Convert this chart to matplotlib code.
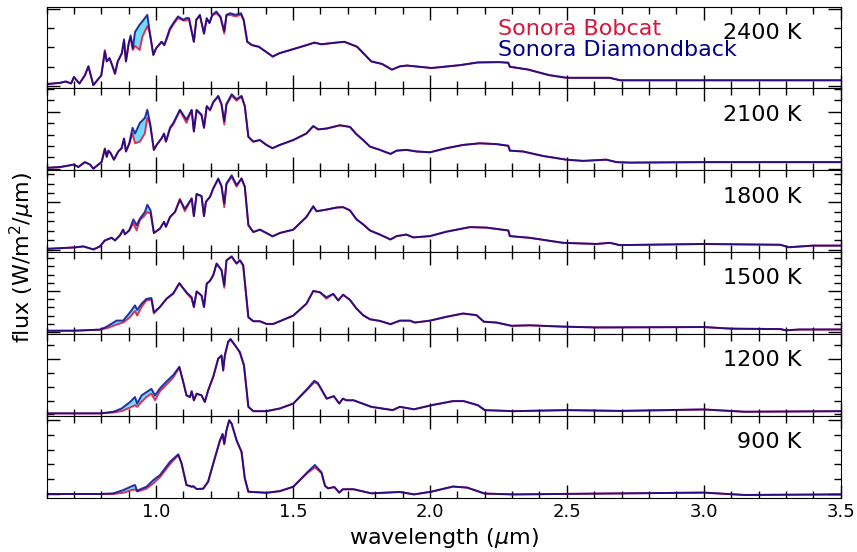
import numpy as np
import matplotlib
matplotlib.use("Agg")
import matplotlib.pyplot as plt
from matplotlib.ticker import MultipleLocator, FixedLocator

# temperatures of the six model pairs (top to bottom)
temps = ["2400 K", "2100 K", "1800 K", "1500 K", "1200 K", "900 K"]

# wavelength grids (micron) and normalised flux
wl_2400 = [0.60, 0.65, 0.67, 0.69, 0.70, 0.72, 0.74, 0.753, 0.771, 0.79, 0.80, 0.813, 0.82, 0.83, 0.84,
           0.85, 0.86, 0.875, 0.883, 0.89, 0.90, 0.907, 0.915, 0.923, 0.94, 0.95, 0.968, 0.976, 0.99,
           1.00, 1.02, 1.03, 1.04, 1.05, 1.063, 1.08, 1.10, 1.11, 1.12, 1.138, 1.147, 1.16, 1.175,
           1.185, 1.195, 1.205, 1.22, 1.235, 1.249, 1.257, 1.27, 1.29, 1.31, 1.32, 1.333, 1.35, 1.375,
           1.426, 1.45, 1.50, 1.55, 1.578, 1.604, 1.656, 1.688, 1.734, 1.786, 1.825, 1.861, 1.89,
           1.916, 2.006, 2.11, 2.175, 2.253, 2.286, 2.292, 2.357, 2.435, 2.50, 2.656, 2.695, 3.0, 3.5]
db_2400 = [0.053, 0.069, 0.085, 0.061, 0.14, 0.06, 0.16, 0.27, 0.04, 0.12, 0.16, 0.45, 0.33, 0.37, 0.28,
           0.18, 0.33, 0.43, 0.60, 0.33, 0.55, 0.65, 0.49, 0.69, 0.78, 0.82, 0.90, 0.71, 0.41,
           0.49, 0.57, 0.53, 0.63, 0.73, 0.80, 0.88, 0.84, 0.86, 0.86, 0.57, 0.84, 0.90, 0.67,
           0.86, 0.80, 0.90, 0.94, 0.88, 0.70, 0.90, 0.92, 0.90, 0.92, 0.84, 0.57, 0.53, 0.51,
           0.39, 0.43, 0.48, 0.53, 0.56, 0.54, 0.56, 0.57, 0.51, 0.33, 0.30, 0.23, 0.27,
           0.28, 0.25, 0.285, 0.318, 0.322, 0.314, 0.265, 0.232, 0.163, 0.13, 0.13, 0.10, 0.10, 0.10]
bc_2400 = [0.053, 0.069, 0.085, 0.061, 0.14, 0.06, 0.16, 0.27, 0.04, 0.12, 0.16, 0.47, 0.33, 0.37, 0.28,
           0.18, 0.33, 0.43, 0.58, 0.33, 0.55, 0.62, 0.47, 0.52, 0.47, 0.63, 0.76, 0.69, 0.41,
           0.49, 0.57, 0.53, 0.61, 0.71, 0.78, 0.86, 0.83, 0.83, 0.85, 0.57, 0.84, 0.89, 0.67,
           0.85, 0.80, 0.89, 0.92, 0.87, 0.67, 0.89, 0.90, 0.88, 0.90, 0.83, 0.57, 0.53, 0.51,
           0.39, 0.43, 0.48, 0.53, 0.56, 0.54, 0.56, 0.57, 0.51, 0.33, 0.30, 0.23, 0.27,
           0.28, 0.25, 0.285, 0.318, 0.322, 0.314, 0.265, 0.232, 0.163, 0.13, 0.13, 0.10, 0.10, 0.10]

wl_2100 = [0.60, 0.65, 0.70, 0.716, 0.74, 0.759, 0.771, 0.789, 0.801, 0.813, 0.82, 0.826, 0.834, 0.846,
           0.862, 0.874, 0.883, 0.89, 0.902, 0.914, 0.923, 0.941, 0.959, 0.968, 0.978, 0.992, 1.002,
           1.02, 1.029, 1.036, 1.051, 1.063, 1.087, 1.111, 1.13, 1.138, 1.148, 1.166, 1.175, 1.185,
           1.197, 1.209, 1.227, 1.239, 1.249, 1.257, 1.276, 1.294, 1.312, 1.324, 1.337, 1.355, 1.379,
           1.403, 1.425, 1.452, 1.501, 1.549, 1.574, 1.592, 1.622, 1.671, 1.708, 1.732, 1.756, 1.781,
           1.817, 1.856, 1.878, 1.914, 1.951, 2.0, 2.06, 2.121, 2.182, 2.243, 2.286, 2.292, 2.34,
           2.413, 2.498, 2.559, 2.644, 2.681, 2.73, 3.0, 3.5]
db_2100 = [0.03, 0.04, 0.07, 0.04, 0.10, 0.07, 0.02, 0.07, 0.10, 0.26, 0.165, 0.24, 0.21, 0.13,
           0.23, 0.27, 0.39, 0.23, 0.33, 0.52, 0.45, 0.58, 0.64, 0.74, 0.58, 0.25, 0.31,
           0.39, 0.45, 0.35, 0.52, 0.58, 0.74, 0.62, 0.74, 0.475, 0.74, 0.68, 0.52, 0.785,
           0.74, 0.835, 0.91, 0.81, 0.60, 0.81, 0.93, 0.87, 0.91, 0.785, 0.41, 0.35, 0.37,
           0.31, 0.27, 0.31, 0.37, 0.45, 0.54, 0.50, 0.51, 0.55, 0.53, 0.44, 0.37, 0.29,
           0.25, 0.20, 0.24, 0.25, 0.23, 0.22, 0.27, 0.31, 0.33, 0.32, 0.30, 0.24, 0.23,
           0.175, 0.13, 0.115, 0.13, 0.10, 0.094, 0.10, 0.10]
bc_2100 = [0.03, 0.04, 0.07, 0.04, 0.10, 0.07, 0.02, 0.07, 0.10, 0.27, 0.165, 0.24, 0.21, 0.13,
           0.23, 0.27, 0.38, 0.23, 0.32, 0.45, 0.33, 0.35, 0.45, 0.64, 0.56, 0.25, 0.31,
           0.39, 0.44, 0.35, 0.51, 0.56, 0.73, 0.58, 0.73, 0.475, 0.73, 0.67, 0.52, 0.78,
           0.73, 0.83, 0.90, 0.80, 0.56, 0.80, 0.91, 0.85, 0.90, 0.78, 0.41, 0.35, 0.37,
           0.31, 0.27, 0.31, 0.37, 0.45, 0.54, 0.50, 0.51, 0.55, 0.53, 0.44, 0.37, 0.29,
           0.25, 0.20, 0.24, 0.25, 0.23, 0.22, 0.27, 0.31, 0.33, 0.32, 0.30, 0.24, 0.23,
           0.175, 0.13, 0.115, 0.13, 0.10, 0.094, 0.10, 0.10]

wl_1800 = [0.60, 0.70, 0.735, 0.771, 0.795, 0.813, 0.838, 0.85, 0.868, 0.88, 0.886, 0.902, 0.917,
           0.929, 0.941, 0.959, 0.968, 0.98, 0.992, 1.014, 1.029, 1.036, 1.051, 1.069, 1.087, 1.105,
           1.13, 1.138, 1.148, 1.166, 1.175, 1.182, 1.197, 1.209, 1.227, 1.239, 1.249, 1.257, 1.276,
           1.294, 1.312, 1.324, 1.337, 1.355, 1.379, 1.403, 1.425, 1.452, 1.501, 1.549, 1.574, 1.586,
           1.622, 1.659, 1.683, 1.708, 1.732, 1.756, 1.781, 1.817, 1.856, 1.878, 1.914, 1.939, 2.0,
           2.06, 2.146, 2.206, 2.286, 2.292, 2.365, 2.486, 2.608, 2.657, 2.693, 3.0, 3.28, 3.31,
           3.4, 3.5]
db_1800 = [0.04, 0.057, 0.07, 0.033, 0.07, 0.143, 0.176, 0.143, 0.205, 0.275, 0.217, 0.266, 0.40,
           0.33, 0.41, 0.49, 0.58, 0.51, 0.234, 0.287, 0.37, 0.31, 0.43, 0.49, 0.64, 0.53,
           0.656, 0.44, 0.71, 0.685, 0.44, 0.615, 0.676, 0.78, 0.90, 0.81, 0.594, 0.84, 0.94,
           0.82, 0.90, 0.80, 0.33, 0.246, 0.275, 0.234, 0.193, 0.234, 0.275, 0.43, 0.56, 0.50,
           0.52, 0.545, 0.55, 0.51, 0.40, 0.34, 0.265, 0.215, 0.155, 0.196, 0.215, 0.18, 0.196,
           0.25, 0.306, 0.30, 0.265, 0.196, 0.175, 0.114, 0.10, 0.114, 0.086, 0.10, 0.09, 0.06,
           0.08, 0.08]
bc_1800 = [0.04, 0.057, 0.07, 0.033, 0.07, 0.143, 0.176, 0.143, 0.205, 0.275, 0.217, 0.266, 0.35,
           0.266, 0.39, 0.45, 0.49, 0.47, 0.234, 0.287, 0.37, 0.31, 0.43, 0.49, 0.65, 0.50,
           0.656, 0.44, 0.71, 0.685, 0.44, 0.615, 0.676, 0.78, 0.89, 0.80, 0.55, 0.83, 0.92,
           0.80, 0.90, 0.80, 0.33, 0.246, 0.275, 0.234, 0.193, 0.234, 0.275, 0.43, 0.56, 0.50,
           0.52, 0.545, 0.55, 0.51, 0.40, 0.34, 0.265, 0.215, 0.155, 0.196, 0.215, 0.18, 0.196,
           0.25, 0.306, 0.30, 0.265, 0.196, 0.175, 0.114, 0.10, 0.114, 0.086, 0.10, 0.09, 0.06,
           0.08, 0.08]

wl_1500 = [0.60, 0.70, 0.795, 0.82, 0.856, 0.88, 0.905, 0.923, 0.931, 0.947, 0.965, 0.983, 0.992,
           1.014, 1.038, 1.063, 1.085, 1.111, 1.13, 1.138, 1.148, 1.166, 1.175, 1.185, 1.197, 1.209,
           1.221, 1.239, 1.249, 1.257, 1.276, 1.294, 1.306, 1.318, 1.337, 1.355, 1.379, 1.403, 1.428,
           1.452, 1.501, 1.549, 1.574, 1.598, 1.622, 1.647, 1.665, 1.683, 1.708, 1.732, 1.756, 1.781,
           1.817, 1.856, 1.890, 1.927, 1.945, 2.0, 2.06, 2.121, 2.170, 2.197, 2.243, 2.298, 2.365,
           2.486, 2.608, 3.0, 3.1, 3.28, 3.3, 3.35, 3.5]
db_1500 = [0.04, 0.04, 0.053, 0.09, 0.164, 0.164, 0.266, 0.35, 0.295, 0.37, 0.43, 0.44, 0.266,
           0.33, 0.43, 0.50, 0.62, 0.51, 0.45, 0.33, 0.52, 0.47, 0.33, 0.615, 0.65, 0.72,
           0.86, 0.78, 0.594, 0.90, 0.95, 0.86, 0.90, 0.84, 0.205, 0.156, 0.156, 0.123, 0.123,
           0.156, 0.225, 0.37, 0.525, 0.51, 0.45, 0.49, 0.41, 0.48, 0.416, 0.31, 0.23, 0.18,
           0.16, 0.12, 0.163, 0.163, 0.14, 0.163, 0.21, 0.25, 0.23, 0.15, 0.14, 0.10, 0.106,
           0.09, 0.08, 0.085, 0.065, 0.06, 0.045, 0.055, 0.055]
bc_1500 = [0.04, 0.04, 0.053, 0.07, 0.115, 0.14, 0.205, 0.28, 0.225, 0.33, 0.41, 0.42, 0.25,
           0.33, 0.43, 0.49, 0.62, 0.50, 0.43, 0.33, 0.52, 0.47, 0.33, 0.615, 0.65, 0.72,
           0.86, 0.78, 0.565, 0.90, 0.94, 0.86, 0.90, 0.84, 0.205, 0.156, 0.156, 0.123, 0.123,
           0.156, 0.225, 0.37, 0.525, 0.51, 0.43, 0.49, 0.41, 0.48, 0.416, 0.31, 0.23, 0.18,
           0.16, 0.12, 0.163, 0.163, 0.14, 0.163, 0.21, 0.25, 0.23, 0.15, 0.14, 0.10, 0.106,
           0.09, 0.08, 0.085, 0.065, 0.06, 0.045, 0.055, 0.055]

wl_1200 = [0.60, 0.795, 0.844, 0.874, 0.905, 0.923, 0.931, 0.947, 0.965, 0.983, 0.996, 1.014, 1.038,
           1.063, 1.085, 1.099, 1.111, 1.124, 1.13, 1.138, 1.148, 1.166, 1.178, 1.19, 1.209, 1.227,
           1.239, 1.245, 1.251, 1.263, 1.272, 1.288, 1.306, 1.321, 1.337, 1.355, 1.403, 1.452, 1.501,
           1.552, 1.578, 1.591, 1.623, 1.649, 1.669, 1.682, 1.695, 1.721, 1.786, 1.825, 1.864, 1.890,
           1.942, 2.006, 2.084, 2.123, 2.175, 2.2, 2.305, 2.5, 2.695, 3.0, 3.149, 3.5]
db_1200 = [0.03, 0.03, 0.05, 0.09, 0.17, 0.23, 0.15, 0.25, 0.29, 0.33, 0.25, 0.335, 0.42,
           0.50, 0.60, 0.416, 0.25, 0.23, 0.30, 0.19, 0.27, 0.25, 0.17, 0.31, 0.48, 0.70,
           0.74, 0.56, 0.74, 0.906, 0.94, 0.865, 0.78, 0.62, 0.11, 0.057, 0.057, 0.09, 0.15,
           0.33, 0.43, 0.40, 0.21, 0.24, 0.15, 0.21, 0.19, 0.19, 0.11, 0.09, 0.07, 0.11,
           0.08, 0.13, 0.18, 0.18, 0.13, 0.07, 0.057, 0.07, 0.06, 0.078, 0.05, 0.057]
bc_1200 = [0.03, 0.03, 0.04, 0.057, 0.10, 0.13, 0.11, 0.17, 0.23, 0.27, 0.19, 0.30, 0.38,
           0.47, 0.59, 0.416, 0.25, 0.23, 0.30, 0.19, 0.27, 0.25, 0.17, 0.31, 0.48, 0.70,
           0.73, 0.55, 0.73, 0.90, 0.93, 0.86, 0.77, 0.61, 0.11, 0.057, 0.057, 0.09, 0.15,
           0.32, 0.41, 0.39, 0.21, 0.24, 0.15, 0.21, 0.19, 0.19, 0.11, 0.09, 0.07, 0.11,
           0.08, 0.13, 0.18, 0.18, 0.13, 0.07, 0.057, 0.07, 0.06, 0.078, 0.05, 0.057]

wl_900 = [0.60, 0.795, 0.844, 0.88, 0.911, 0.923, 0.931, 0.947, 0.965, 0.99, 1.014, 1.051, 1.081,
          1.093, 1.111, 1.13, 1.136, 1.148, 1.172, 1.19, 1.209, 1.233, 1.243, 1.249, 1.257, 1.267,
          1.276, 1.294, 1.312, 1.324, 1.337, 1.403, 1.452, 1.501, 1.552, 1.58, 1.604, 1.617, 1.628,
          1.651, 1.669, 1.682, 1.721, 1.786, 1.89, 1.942, 2.006, 2.084, 2.136, 2.2, 2.305, 3.0,
          3.149, 3.5]
db_900 = [0.045, 0.045, 0.053, 0.093, 0.14, 0.155, 0.085, 0.11, 0.134, 0.215, 0.276, 0.44, 0.53,
          0.42, 0.155, 0.134, 0.14, 0.106, 0.11, 0.195, 0.42, 0.70, 0.78, 0.66, 0.825, 0.947,
          0.906, 0.70, 0.56, 0.236, 0.073, 0.06, 0.08, 0.134, 0.31, 0.40, 0.31, 0.144, 0.114,
          0.13, 0.062, 0.103, 0.103, 0.053, 0.07, 0.04, 0.074, 0.136, 0.123, 0.05, 0.04, 0.062,
          0.033, 0.04]
bc_900 = [0.045, 0.045, 0.045, 0.06, 0.093, 0.10, 0.075, 0.09, 0.11, 0.175, 0.25, 0.41, 0.52,
          0.42, 0.155, 0.134, 0.14, 0.106, 0.11, 0.195, 0.42, 0.69, 0.77, 0.65, 0.82, 0.94,
          0.90, 0.70, 0.56, 0.236, 0.073, 0.06, 0.08, 0.134, 0.30, 0.37, 0.30, 0.144, 0.114,
          0.13, 0.062, 0.103, 0.103, 0.053, 0.07, 0.04, 0.074, 0.136, 0.123, 0.05, 0.04, 0.062,
          0.033, 0.04]

wavelengths = [wl_2400, wl_2100, wl_1800, wl_1500, wl_1200, wl_900]
bobcat = [bc_2400, bc_2100, bc_1800, bc_1500, bc_1200, bc_900]
diamondback = [db_2400, db_2100, db_1800, db_1500, db_1200, db_900]

# y tick layout per panel: (minor step, a major tick value, minors per major)
ytick_style = [(0.233, 0.967, 4), (0.1396, 0.715, 5), (0.115, 0.607, 5),
               (0.1004, 0.525, 5), (0.169, 0.694, 5), (0.18, 0.947, 5)]

bob_col = "crimson"
dia_col = "darkblue"

fig = plt.figure(figsize=(8.57, 5.52), dpi=100)
gs = fig.add_gridspec(6, 1, hspace=0, left=0.0543, right=0.981, top=0.988, bottom=0.0984)
axes = [fig.add_subplot(gs[i]) for i in range(6)]

for i, ax in enumerate(axes):
    wl = np.array(wavelengths[i])
    bc = np.array(bobcat[i])
    db = np.array(diamondback[i])
    ax.fill_between(wl, bc, db, where=db > bc, interpolate=True,
                    color="deepskyblue", alpha=0.55, lw=0)
    ax.plot(wl, bc, color=bob_col, lw=1.4, alpha=0.85)
    ax.plot(wl, db, color=dia_col, lw=1.4, alpha=0.8)

    ax.set_xlim(0.6, 3.5)
    ax.set_ylim(0, 1)
    ax.xaxis.set_major_locator(MultipleLocator(0.5))
    ax.xaxis.set_minor_locator(MultipleLocator(0.1))

    step, anchor, nsub = ytick_style[i]
    k = np.arange(-20, 21)
    minors = anchor + k * step
    minors = minors[(minors > 0.005) & (minors < 0.995)]
    majors = anchor + k * step * nsub
    majors = majors[(majors > 0.005) & (majors < 0.995)]
    ax.yaxis.set_major_locator(FixedLocator(majors))
    ax.yaxis.set_minor_locator(FixedLocator(minors))

    ax.tick_params(which="both", direction="in", top=True, right=True,
                   labelleft=False, labelsize=13)
    ax.tick_params(which="major", length=9.5, width=1)
    ax.tick_params(which="minor", length=5, width=1)
    if i < 5:
        ax.tick_params(labelbottom=False)

    ax.text(0.951, 0.68, temps[i], transform=ax.transAxes, ha="right",
            va="center", fontsize=16)

axes[0].text(0.568, 0.727, "Sonora Bobcat", color=bob_col, transform=axes[0].transAxes,
             va="center", fontsize=16)
axes[0].text(0.568, 0.47, "Sonora Diamondback", color=dia_col, transform=axes[0].transAxes,
             va="center", fontsize=16)

axes[-1].set_xlabel(r"wavelength ($\mu$m)", fontsize=16, labelpad=4)
fig.text(0.026, 0.533, r"flux (W/m$^2$/$\mu$m)", rotation=90, ha="center",
         va="center", fontsize=16)

fig.savefig("out.png", dpi=100)
